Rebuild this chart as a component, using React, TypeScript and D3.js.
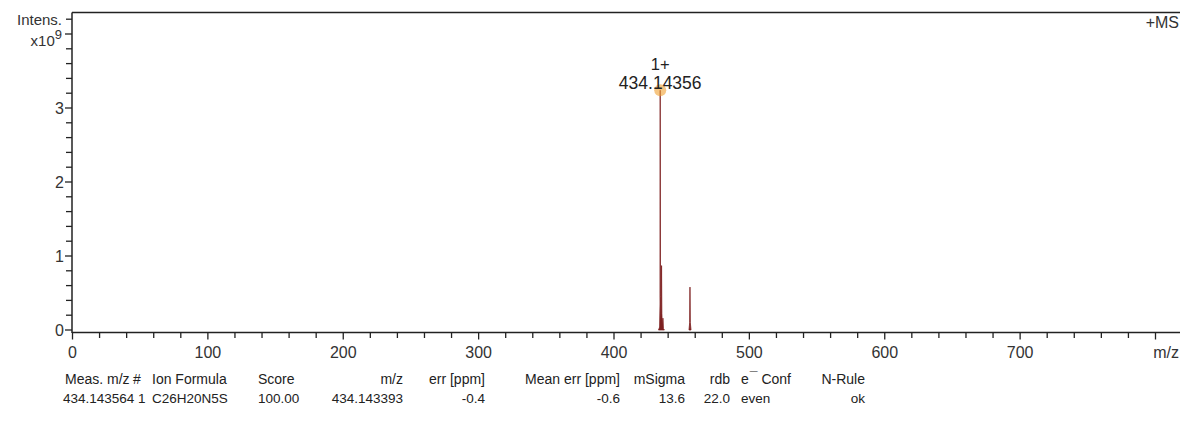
import React from "react";
import * as d3 from "d3";

// Profile spectrum points (m/z, intensity in units of 1e9)
const profileMz = [432.9, 433.7, 434.0, 434.14, 434.3, 434.6, 434.95, 435.14, 435.35, 435.8, 436.14, 436.5, 437.2, 455.4, 455.9, 456.12, 456.35, 456.9];
const profileInt = [0, 0.04, 0.35, 3.24, 0.45, 0.12, 0.35, 0.87, 0.22, 0.04, 0.16, 0.02, 0, 0, 0.1, 0.58, 0.1, 0];
const groupBreakIdx = 13; // second cluster starts here

const annotatedMz = 434.14356;
const annotatedInt = 3.24;
const annotatedCharge = "1+";
const annotatedLabel = "434.14356";

const xMajorTicks = [0, 100, 200, 300, 400, 500, 600, 700, 800];
const xTickLabels = ["0", "100", "200", "300", "400", "500", "600", "700", ""];
const yMajorTicks = [0, 1, 2, 3, 4];
const yTickLabels = ["0", "1", "2", "3", ""];

const tableHeaders = ["Meas. m/z", "#", "Ion Formula", "Score", "m/z", "err [ppm]", "Mean err [ppm]", "mSigma", "rdb", "e Conf", "N-Rule"];
const tableValues = ["434.143564", "1", "C26H20N5S", "100.00", "434.143393", "-0.4", "-0.6", "13.6", "22.0", "even", "ok"];

// column layout: [header x, header anchor, value x, value anchor]
const colLayout: [number, string, number, string][] = [
  [65, "start", 63, "start"],
  [133, "start", 138, "start"],
  [152, "start", 152, "start"],
  [258, "start", 258, "start"],
  [403, "end", 403, "end"],
  [485, "end", 485, "end"],
  [620, "end", 620, "end"],
  [685, "end", 685, "end"],
  [730, "end", 730, "end"],
  [741, "start", 741, "start"],
  [865, "end", 865, "end"],
];

const W = 1180;
const H = 425;
const FONT = "'Liberation Sans', Arial, sans-serif";
const AXIS = "#222";
const TEXT = "#333";

export default function App() {
  const x = d3.scaleLinear().domain([0, 800]).range([72.5, 1155.5]);
  const y = d3.scaleLinear().domain([0, 4]).range([330, 34]);
  const axisY = 332.5;
  const leftX = 72;
  const topY = 12.5;

  const xMinor = d3.range(0, 801, 20).filter((v) => v % 100 !== 0);
  const yMinor = d3.range(0, 4.21, 0.2).filter((v) => Math.abs(v - Math.round(v)) > 1e-6);

  const pts = profileMz.map((m, i) => [m, profileInt[i]] as [number, number]);
  const groups = [pts.slice(0, groupBreakIdx), pts.slice(groupBreakIdx)];
  const area = d3
    .area<[number, number]>()
    .x((d) => x(d[0]))
    .y0(y(0))
    .y1((d) => y(d[1]));

  return (
    <svg width={W} height={H} style={{ position: "absolute", left: 0, top: 0, background: "#fff" }} fontFamily={FONT}>
      {/* frame: top line and left axis */}
      <line x1={leftX} x2={W} y1={topY} y2={topY} stroke={AXIS} strokeWidth={1.5} />
      <line x1={leftX} x2={leftX} y1={topY} y2={axisY + 0.5} stroke={AXIS} strokeWidth={1.5} />
      <line x1={leftX} x2={W} y1={axisY} y2={axisY} stroke={AXIS} strokeWidth={1.5} />

      {/* y ticks */}
      {yMajorTicks.map((v, i) => (
        <g key={"ym" + v}>
          <line x1={leftX - 7} x2={leftX} y1={y(v)} y2={y(v)} stroke={AXIS} strokeWidth={1.3} />
          <text x={leftX - 8} y={y(v) + 5.5} fontSize={16} textAnchor="end" fill={TEXT}>
            {yTickLabels[i]}
          </text>
        </g>
      ))}
      {yMinor.map((v) => (
        <line key={"yn" + v} x1={leftX - 6} x2={leftX} y1={y(v)} y2={y(v)} stroke={AXIS} strokeWidth={1.3} />
      ))}
      <text x={62} y={25} fontSize={15} textAnchor="end" fill={TEXT}>Intens.</text>
      <text x={62} y={46} fontSize={15} textAnchor="end" fill={TEXT}>
        x10<tspan dy={-7} fontSize={13}>9</tspan>
      </text>
      <text x={1179} y={28} fontSize={16} textAnchor="end" fill={TEXT}>+MS</text>

      {/* x ticks */}
      {xMajorTicks.map((v, i) => (
        <g key={"xm" + v}>
          <line x1={x(v)} x2={x(v)} y1={axisY} y2={axisY + 7} stroke={AXIS} strokeWidth={1.3} />
          <text x={x(v)} y={358} fontSize={16} textAnchor="middle" fill={TEXT}>
            {xTickLabels[i]}
          </text>
        </g>
      ))}
      {xMinor.map((v) => (
        <line key={"xn" + v} x1={x(v)} x2={x(v)} y1={axisY} y2={axisY + 5.5} stroke={AXIS} strokeWidth={1.3} />
      ))}
      <text x={1179} y={358} fontSize={16} textAnchor="end" fill={TEXT}>m/z</text>

      {/* spectrum */}
      {groups.map((g, i) => (
        <path key={"pk" + i} d={area(g) || ""} fill="#7d1f1f" stroke="#7d1f1f" strokeWidth={1} strokeOpacity={0.8} />
      ))}

      {/* annotated peak */}
      <circle cx={x(annotatedMz)} cy={y(annotatedInt)} r={6} fill="#f0a030" fillOpacity={0.6} />
      <text x={x(annotatedMz)} y={70} fontSize={16.5} textAnchor="middle" fill="#222">{annotatedCharge}</text>
      <text x={x(annotatedMz)} y={89} fontSize={17.5} textAnchor="middle" fill="#222">{annotatedLabel}</text>

      {/* result table */}
      {tableHeaders.map((h, i) => (
        <text key={"th" + i} x={colLayout[i][0]} y={384} fontSize={14} textAnchor={colLayout[i][1] as any} fill="#222">
          {h === "e Conf" ? (
            <>
              e<tspan dx={1} dy={-2}>¯</tspan>
              <tspan dy={2}> Conf</tspan>
            </>
          ) : (
            h
          )}
        </text>
      ))}
      {tableValues.map((v, i) => (
        <text key={"tv" + i} x={colLayout[i][2]} y={403} fontSize={13.5} textAnchor={colLayout[i][3] as any} fill="#222">
          {v}
        </text>
      ))}
    </svg>
  );
}
